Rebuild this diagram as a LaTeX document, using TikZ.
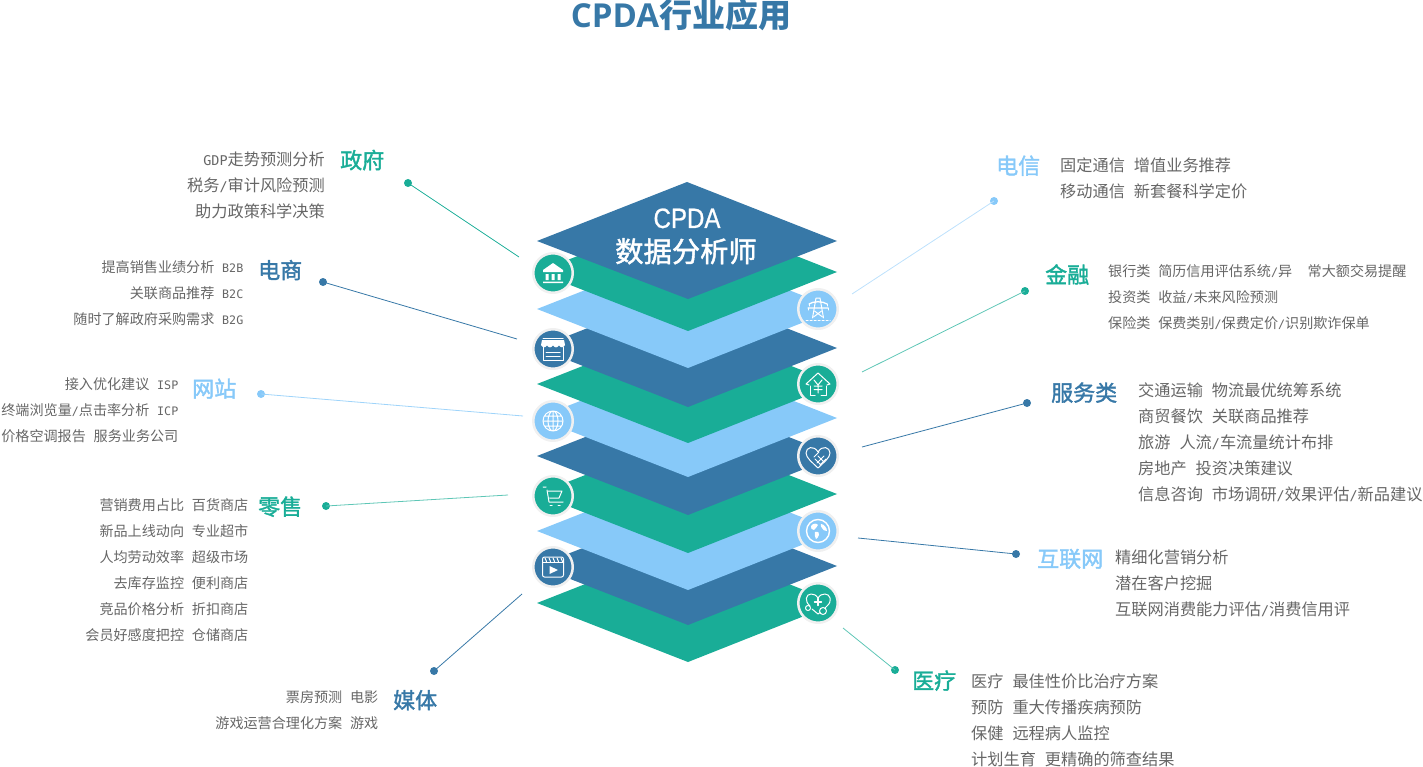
\documentclass[tikz,border=0pt]{standalone}
\usepackage{fontspec}
\setmainfont{Noto Sans CJK SC}
\newfontfamily\monof[Scale=0.83]{DejaVu Sans Mono}
\newfontfamily\titlef{Open Sans}
\newfontfamily\headf[FakeBold=1.6]{Noto Sans CJK SC}
\newfontfamily\cpdaf[FakeStretch=0.86,FakeBold=0.8]{Liberation Sans}
\newcommand{\lat}[1]{{\monof #1}}
\newcommand{\gp}{\hspace{0.55em}}
\definecolor{cblue}{HTML}{3778A7}
\definecolor{cgreen}{HTML}{19AD97}
\definecolor{clight}{HTML}{87C9F9}
\definecolor{crim}{HTML}{F0F0F0}
\definecolor{ctext}{HTML}{666666}
\tikzset{
  sixteen/.style={text=ctext,inner sep=0pt,yshift=-0.5pt,font=\fontsize{16.2}{16}\selectfont},
  fourteen/.style={text=ctext,inner sep=0pt,yshift=-0.5pt,font=\fontsize{14.1}{14}\selectfont},
  head/.style={inner sep=0pt,anchor=base west,font=\fontsize{22}{22}\selectfont\headf},
  layer/.style={fill=#1,draw=none},
  dot/.style={circle,fill=#1,inner sep=0pt,minimum size=8pt,draw=none},
  lead/.style={draw=#1,line width=0.8pt},
  badge/.style={circle,fill=#1,draw=crim,line width=2.5pt,minimum size=39.5pt,inner sep=0pt},
  ic/.style={draw=white,line width=1pt,fill=none,line cap=round,line join=round},
  heartpath/.pic={\draw[ic] (0,-4) .. controls (-4,-11) and (-12,-9) .. (-12,-3) .. controls (-12,2) and (-5,7) .. (0,12) .. controls (5,7) and (12,2) .. (12,-3) .. controls (12,-9) and (4,-11) .. (0,-4);},
  bankicon/.pic={
    \fill[white] (-10,-3) -- (0,-10) -- (10,-3) -- (10,-1) -- (-10,-1) -- cycle;
    \fill[white] (-7.5,1) rectangle (-4.5,7) (-1.5,1) rectangle (1.5,7) (4.5,1) rectangle (7.5,7) (-10,8.5) rectangle (10,10);
  },
  storeicon/.pic={
    \draw[ic] (-10,-11) -- (10,-11);
    \fill[white] (-11,-9) -- (11,-9) -- (12,-4) .. controls (10,-1) and (8,-1) .. (6,-3.5) .. controls (4,-1) and (2,-1) .. (0,-3.5) .. controls (-2,-1) and (-4,-1) .. (-6,-3.5) .. controls (-8,-1) and (-10,-1) .. (-12,-4) -- cycle;
    \draw[ic] (-10,-2) -- (-10,11) -- (10,11) -- (10,-2);
    \draw[ic] (-7,3) -- (7,3) (-7,7) -- (7,7);
  },
  globeicon/.pic={
    \draw[ic] (0,0) circle (10) (0,0) ellipse (5 and 10) (0,-10) -- (0,10) (-10,0) -- (10,0) (-8.5,-5) -- (8.5,-5) (-8.5,5) -- (8.5,5);
  },
  carticon/.pic={
    \draw[ic] (-10,-9) -- (-7,-9) (-6,-6) -- (-4,6) -- (10,6);
    \draw[ic] (-5,-5) -- (9,-5) -- (6,2) -- (-3.5,2);
    \draw[ic] (-3,9) -- (-1,9) (5,9) -- (7,9);
  },
  filmicon/.pic={
    \draw[ic,rounded corners=2pt] (-10.5,-10) rectangle (10.5,10);
    \draw[ic] (-10.5,-4.5) -- (10.5,-4.5);
    \foreach \q in {-8,-4,0,4,8}{\draw[ic] (\q,-9) -- (\q+1.5,-5.5);}
    \fill[white] (-3.5,-1) -- (5,3) -- (-3.5,7) -- cycle;
  },
  pylonicon/.pic={
    \draw[ic] (-2,-11) -- (-5.5,9) (2,-11) -- (5.5,9) (-2,-11) -- (2,-11);
    \draw[ic,line width=1.3pt] (-9,-5) .. controls (-5,-8) and (5,-8) .. (9,-5) (-10,-1) -- (10,-1);
    \draw[ic] (-9,-5) -- (-9,-3) (9,-5) -- (9,-3) (-10,-1) -- (-10,1) (10,-1) -- (10,1);
    \draw[ic] (-3.5,2) -- (4.5,8) (3.5,2) -- (-4.5,8);
    \draw[ic,dash pattern=on 2pt off 2pt] (-12,11) -- (12,11);
  },
  houseicon/.pic={
    \draw[ic] (-12,0) -- (0,-11) -- (12,0) -- (9,1) (-12,0) -- (-9,1);
    \draw[ic] (-8,2) -- (-8,11) -- (-3,11) (8,2) -- (8,11) -- (3,11);
    \draw[ic] (-4,-4) -- (0,1) -- (4,-4) (0,1) -- (0,9) (-4,2) -- (4,2) (-4,5.5) -- (4,5.5);
  },
  shakeicon/.pic={
    \pic {heartpath};
    \draw[ic] (-4,1) -- (1,-4) (-3,3) -- (3,9) (0,0) -- (6,6) (-1,7) -- (6,0) (2,9) -- (8,3);
  },
  earthicon/.pic={
    \draw[ic,line width=1.4pt] (0,0) circle (11.5);
    \fill[white] (-7,-5) .. controls (-5,-8) and (-1,-8) .. (0,-6) .. controls (-1,-3) and (-3,-3) .. (-4,-1) .. controls (-6,-1) and (-8,-3) .. (-7,-5) -- cycle;
    \fill[white] (3,-7) .. controls (6,-7) and (9,-3) .. (9,0) .. controls (6,0) and (5,-1) .. (4,-3) .. controls (3,-4) and (2,-6) .. (3,-7) -- cycle;
    \fill[white] (-3,1) .. controls (0,0) and (2,2) .. (1,4) .. controls (0,6) and (-1,8) .. (-2,8) .. controls (-3,6) and (-4,3) .. (-3,1) -- cycle;
  },
  stethicon/.pic={
    \draw[ic] (-8,3) .. controls (-14,-2) and (-12,-9) .. (-7,-9) .. controls (-4,-9) and (-2,-8) .. (0,-5) .. controls (2,-8) and (4,-9) .. (7,-9) .. controls (12,-9) and (15,-2) .. (9,3) -- (7,5);
    \draw[ic] (-6,6) -- (0,11) -- (2,9.5);
    \draw[ic] (-10,5) circle (2.5) (5,8) circle (3.5);
    \draw[ic,line width=1.4pt] (-3.5,-1) -- (3.5,-1) (0,-4.5) -- (0,2.5);
  }
}
\begin{document}
\begin{tikzpicture}[x=1pt,y=-1pt]
\useasboundingbox (0,0) rectangle (1423,767);
% stacked layers
\foreach \cy/\cc in {603/cgreen,566/cblue,531/clight,494/cgreen,456/cblue,418/clight,384/cgreen,348/cblue,309/clight,272/cgreen}{
  \fill[layer=\cc] (537,\cy) -- (687,\cy-59) -- (837,\cy) -- (688,\cy+59) -- cycle;
}
\fill[layer=cblue] (537,241) -- (687,182) -- (837,241) -- (688,299) -- cycle;
% title
\node[inner sep=0pt,anchor=base,text=cblue,font=\fontsize{33}{33}\selectfont\bfseries] (maintitle) at (681,28) {{\titlef\bfseries CPDA}行业应用};
\node[inner sep=0pt,anchor=base,text=white,font=\fontsize{28}{28}\selectfont] (cpda) at (687,228) {\cpdaf CPDA};
\node[inner sep=0pt,anchor=base,text=white,font=\fontsize{28.3}{28}\selectfont\headf] (analyst) at (686,262) {数据分析师};
% badges
\node[badge=cgreen] (b1) at (553,273) {};
\node[badge=cblue] (b2) at (553,349) {};
\node[badge=clight] (b3) at (553,421) {};
\node[badge=cgreen] (b4) at (553,496) {};
\node[badge=cblue] (b5) at (553,567) {};
\node[badge=clight] (b6) at (818,309) {};
\node[badge=cgreen] (b7) at (818,384) {};
\node[badge=cblue] (b8) at (818,456) {};
\node[badge=clight] (b9) at (818,531) {};
\node[badge=cgreen] (b10) at (818,603) {};
\pic at (b1.center) {bankicon};
\pic at (b2.center) {storeicon};
\pic at (b3.center) {globeicon};
\pic at (b4.center) {carticon};
\pic at (b5.center) {filmicon};
\pic at (b6.center) {pylonicon};
\pic at (b7.center) {houseicon};
\pic at (b8.center) {shakeicon};
\pic at (b9.center) {earthicon};
\pic at (b10.center) {stethicon};
% connectors
\coordinate (e1) at (519,257);
\coordinate (e2) at (517,339);
\coordinate (e3) at (523,416);
\coordinate (e4) at (508,495);
\coordinate (e5) at (522,594);
\coordinate (e6) at (852,294);
\coordinate (e7) at (862,372);
\coordinate (e8) at (862,447);
\coordinate (e9) at (858,538);
\coordinate (e10) at (843,628);
\node[dot=cgreen] (d1) at (408,183) {};
\node[dot=cblue] (d2) at (323,282) {};
\node[dot=clight] (d3) at (261,394) {};
\node[dot=cgreen] (d4) at (326,506) {};
\node[dot=cblue] (d5) at (434,671) {};
\node[dot=clight] (d6) at (994,201) {};
\node[dot=cgreen] (d7) at (1025,291) {};
\node[dot=cblue] (d8) at (1027,403) {};
\node[dot=cblue] (d9) at (1016,554) {};
\node[dot=cgreen] (d10) at (895,670) {};
\draw[lead=cgreen] (d1.center) -- (e1);
\draw[lead=cblue] (d2.center) -- (e2);
\draw[lead=clight!80] (d3.center) -- (e3);
\draw[lead=cgreen!70] (d4.center) -- (e4);
\draw[lead=cblue] (d5.center) -- (e5);
\draw[lead=clight!55] (d6.center) -- (e6);
\draw[lead=cgreen!70] (d7.center) -- (e7);
\draw[lead=cblue] (d8.center) -- (e8);
\draw[lead=cblue] (d9.center) -- (e9);
\draw[lead=cgreen!70] (d10.center) -- (e10);
% section heads
\node[head,text=cgreen] (h1) at (340,168.5) {政府};
\node[head,text=cblue] (h2) at (258,278.5) {电商};
\node[head,text=clight] (h3) at (192,397) {网站};
\node[head,text=cgreen] (h4) at (258,515) {零售};
\node[head,text=cblue] (h5) at (393,708.5) {媒体};
\node[head,text=clight] (h6) at (996,174) {电信};
\node[head,text=cgreen] (h7) at (1045,283) {金融};
\node[head,text=cblue] (h8) at (1051,401) {服务类};
\node[head,text=clight] (h9) at (1037,567) {互联网};
\node[head,text=cgreen] (h10) at (912,689) {医疗};
% left text
\node[sixteen,anchor=base east] (t11) at (325,165) {\lat{GDP}走势预测分析};
\node[sixteen,anchor=base east] (t12) at (325,191) {税务\lat{/}审计风险预测};
\node[sixteen,anchor=base east] (t13) at (325,217) {助力政策科学决策};
\node[fourteen,anchor=base east] (t21) at (243.5,272) {提高销售业绩分析\gp\lat{B2B}};
\node[fourteen,anchor=base east] (t22) at (243.5,298) {关联商品推荐\gp\lat{B2C}};
\node[fourteen,anchor=base east] (t23) at (243.5,324) {随时了解政府采购需求\gp\lat{B2G}};
\node[fourteen,anchor=base east] (t31) at (178.5,389) {接入优化建议\gp\lat{ISP}};
\node[fourteen,anchor=base east] (t32) at (178.5,415) {终端浏览量\lat{/}点击率分析\gp\lat{ICP}};
\node[fourteen,anchor=base east] (t33) at (178.5,441) {价格空调报告\gp 服务业务公司};
\node[fourteen,anchor=base east] (t41) at (248.5,510) {营销费用占比\gp 百货商店};
\node[fourteen,anchor=base east] (t42) at (248.5,536) {新品上线动向\gp 专业超市};
\node[fourteen,anchor=base east] (t43) at (248.5,562) {人均劳动效率\gp 超级市场};
\node[fourteen,anchor=base east] (t44) at (248.5,588) {去库存监控\gp 便利商店};
\node[fourteen,anchor=base east] (t45) at (248.5,614) {竞品价格分析\gp 折扣商店};
\node[fourteen,anchor=base east] (t46) at (248.5,640) {会员好感度把控\gp 仓储商店};
\node[fourteen,anchor=base east] (t51) at (378.5,702) {票房预测\gp 电影};
\node[fourteen,anchor=base east] (t52) at (378.5,728) {游戏运营合理化方案\gp 游戏};
% right text
\node[sixteen,anchor=base west] (t61) at (1060,171) {固定通信\gp 增值业务推荐};
\node[sixteen,anchor=base west] (t62) at (1060,197) {移动通信\gp 新套餐科学定价};
\node[fourteen,anchor=base west] (t71) at (1108,276) {银行类\gp 简历信用评估系统\lat{/}异\hspace{1.1em}常大额交易提醒};
\node[fourteen,anchor=base west] (t72) at (1108,302) {投资类\gp 收益\lat{/}未来风险预测};
\node[fourteen,anchor=base west] (t73) at (1108,328) {保险类\gp 保费类别\lat{/}保费定价\lat{/}识别欺诈保单};
\node[sixteen,anchor=base west] (t81) at (1138,396) {交通运输\gp 物流最优统筹系统};
\node[sixteen,anchor=base west] (t82) at (1138,422) {商贸餐饮\gp 关联商品推荐};
\node[sixteen,anchor=base west] (t83) at (1138,448) {旅游\gp 人流\lat{/}车流量统计布排};
\node[sixteen,anchor=base west] (t84) at (1138,474) {房地产\gp 投资决策建议};
\node[sixteen,anchor=base west] (t85) at (1138,500) {信息咨询\gp 市场调研\lat{/}效果评估\lat{/}新品建议};
\node[sixteen,anchor=base west] (t91) at (1115,563) {精细化营销分析};
\node[sixteen,anchor=base west] (t92) at (1115,589) {潜在客户挖掘};
\node[sixteen,anchor=base west] (t93) at (1115,615) {互联网消费能力评估\lat{/}消费信用评};
\node[sixteen,anchor=base west] (t101) at (971,687) {医疗\gp 最佳性价比治疗方案};
\node[sixteen,anchor=base west] (t102) at (971,713) {预防\gp 重大传播疾病预防};
\node[sixteen,anchor=base west] (t103) at (971,739) {保健\gp 远程病人监控};
\node[sixteen,anchor=base west] (t104) at (971,765) {计划生育\gp 更精确的筛查结果};
\end{tikzpicture}
\end{document}
